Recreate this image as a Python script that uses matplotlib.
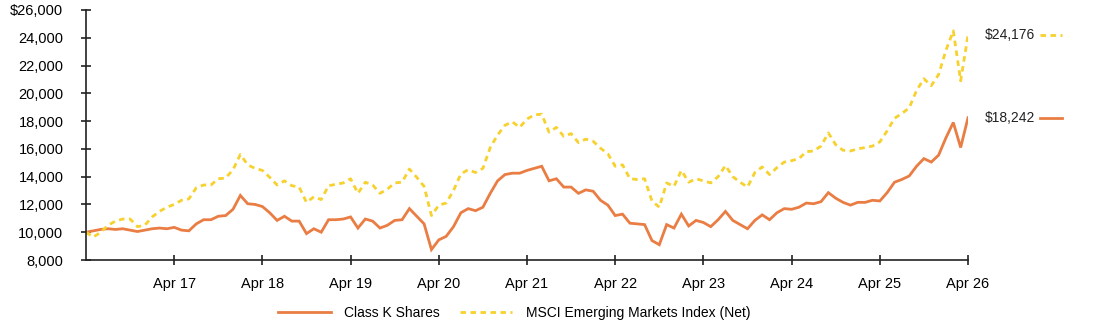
import matplotlib
matplotlib.use("Agg")
import matplotlib.pyplot as plt
import numpy as np
import pandas as pd
from matplotlib.lines import Line2D

plt.rcParams['font.family'] = ['Liberation Sans', 'DejaVu Sans']

dates = pd.date_range("2016-04-30", "2026-04-30", freq="ME")

class_k = [
    10000, 10100, 10200, 10250, 10200, 10250, 10150, 10050, 10150, 10250, 10300, 10250,
    10350, 10150, 10100, 10600, 10900, 10900, 11150, 11200, 11650, 12650, 12050, 12000,
    11850, 11400, 10850, 11150, 10800, 10800, 9900, 10250, 10000, 10900, 10900, 10950,
    11100, 10300, 10950, 10800, 10300, 10500, 10850, 10900, 11700, 11150, 10600, 8750,
    9450, 9700, 10400, 11400, 11700, 11550, 11800, 12800, 13700, 14150, 14250, 14250,
    14450, 14600, 14750, 13700, 13850, 13250, 13250, 12800, 13050, 12950, 12300, 11950,
    11200, 11300, 10650, 10600, 10550, 9400, 9100, 10550, 10300, 11300, 10450, 10850,
    10700, 10400, 10900, 11500, 10850, 10550, 10250, 10850, 11250, 10900, 11400, 11700,
    11650, 11800, 12100, 12050, 12200, 12850, 12450, 12150, 11950, 12150, 12150, 12300,
    12250, 12850, 13600, 13800, 14050, 14750, 15300, 15050, 15550, 16800, 17900, 16100,
    18242,
]

msci = [
    10000, 9650, 10000, 10500, 10800, 10950, 10950, 10400, 10500, 11100, 11500, 11800,
    12000, 12300, 12400, 13200, 13400, 13400, 13850, 13900, 14500, 15600, 14850, 14600,
    14450, 13950, 13400, 13700, 13350, 13250, 12150, 12550, 12350, 13350, 13450, 13550,
    13850, 12800, 13600, 13400, 12800, 13100, 13550, 13600, 14550, 13950, 13300, 11200,
    11950, 12100, 13000, 14200, 14500, 14300, 14600, 16100, 17000, 17700, 17950, 17550,
    18150, 18450, 18500, 17200, 17550, 16900, 17100, 16450, 16700, 16550, 16050, 15650,
    14750, 14850, 13850, 13800, 13850, 12250, 11800, 13550, 13300, 14450, 13600, 13850,
    13700, 13550, 14000, 14800, 14000, 13600, 13250, 14300, 14700, 14150, 14650, 15050,
    15150, 15300, 15800, 15850, 16200, 17150, 16300, 15900, 15850, 16000, 16100, 16200,
    16500, 17300, 18200, 18550, 18950, 20200, 21050, 20550, 21350, 23100, 24500, 20900,
    24176,
]

tick_labels = ["Apr 17", "Apr 18", "Apr 19", "Apr 20", "Apr 21", "Apr 22",
               "Apr 23", "Apr 24", "Apr 25", "Apr 26"]
series_names = ["Class K Shares", "MSCI Emerging Markets Index (Net)"]
end_labels = ["$18,242", "$24,176"]

ORANGE = "#E97D43"
YELLOW = "#F7D12E"

fig = plt.figure(figsize=(10.94, 3.27), dpi=100)
ax = fig.add_axes([86/1094, 1-260/327, (968-86)/1094, 250/327])

x = np.arange(len(dates))
l1, = ax.plot(x, class_k, color=ORANGE, lw=2.0, solid_joinstyle='miter')
l2, = ax.plot(x, msci, color=YELLOW, lw=2.0, dashes=(2, 1.6))

ax.set_xlim(0, len(dates) - 1)
ax.set_ylim(8000, 26000)
yt = np.arange(8000, 26001, 2000)
ax.set_yticks(yt)
ax.set_yticklabels([("$" if v == 26000 else "") + f"{v:,}" for v in yt])
tick_pos = [i for i, d in enumerate(dates) if d.month == 4 and d.year >= 2017]
ax.set_xticks(tick_pos)
ax.set_xticklabels(tick_labels)

for s in ["top", "right"]:
    ax.spines[s].set_visible(False)
for s in ["left", "bottom"]:
    ax.spines[s].set_color("#222222")
    ax.spines[s].set_linewidth(1.2)
ax.tick_params(axis='y', direction='inout', length=6.5, width=1.2, color="#222222",
               labelsize=10.5, pad=13)
ax.tick_params(axis='x', direction='inout', length=6.5, width=1.2, color="#222222",
               labelsize=10.5, pad=9)

# end labels
for val, lab, col, ls in [(class_k[-1], end_labels[0], ORANGE, None),
                           (msci[-1], end_labels[1], YELLOW, (2, 1.6))]:
    ax.annotate(lab, xy=(1.0, val), xycoords=('axes fraction', 'data'),
                xytext=(12, 0), textcoords='offset points',
                ha='left', va='center', fontsize=10, color="#222222",
                annotation_clip=False)
    ln = Line2D([1.082, 1.107], [val, val], transform=ax.get_yaxis_transform(),
                color=col, lw=2.0, clip_on=False)
    if ls is not None:
        ln.set_dashes(ls)
    ax.add_line(ln)

fig.legend([l1, l2], series_names, loc='center', ncol=2,
           bbox_to_anchor=(514/1094, 1-313/327), frameon=False,
           fontsize=10, handlelength=3.8, columnspacing=1.45, handletextpad=0.95)

fig.savefig("out.png", dpi=100)
